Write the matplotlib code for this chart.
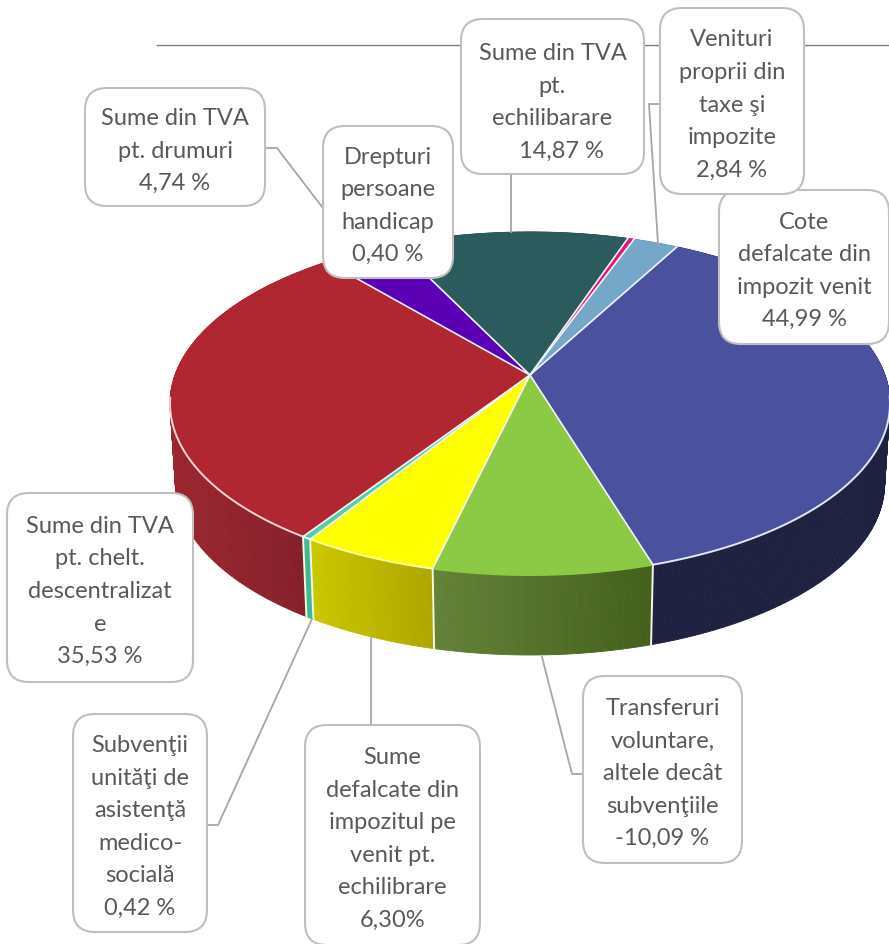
import numpy as np
import matplotlib
matplotlib.use("Agg")
import matplotlib.pyplot as plt
from matplotlib.patches import Polygon, FancyBboxPatch
from matplotlib.colors import to_rgb

labels = ["Cote\ndefalcate din\nimpozit venit\n44,99 %",
          "Transferuri\nvoluntare,\naltele decât\nsubvenţiile\n-10,09 %",
          "Sume\ndefalcate din\nimpozitul pe\nvenit pt.\nechilibrare\n6,30%",
          "Subvenţii\nunităţi de\nasistenţă\nmedico-\nsocială\n0,42 %",
          "Sume din TVA\npt. chelt.\ndescentralizat\ne\n35,53 %",
          "Sume din TVA\npt. drumuri\n4,74 %",
          "Sume din TVA\npt.\nechilibarare\n   14,87 %",
          "Drepturi\npersoane\nhandicap\n0,40 %",
          "Venituri\nproprii din\ntaxe şi\nimpozite\n2,84 %"]
values = [44.99, 10.09, 6.30, 0.42, 35.53, 4.74, 14.87, 0.40, 2.84]

top_colors = ["#4A52A0", "#8CC944", "#FFFF00", "#4FD0A8", "#B12731", "#5B00B5", "#2B5B5C", "#E0187A", "#74A7C8"]
side_left = ["#1E2240", "#648238", "#CBC800", "#3FB890", "#9C2630", "#4A0090", "#224849", "#B01060", "#5C86A0"]
side_right = ["#1E2240", "#43601C", "#AFA600", "#3FB890", "#801F29", "#4A0090", "#224849", "#B01060", "#5C86A0"]
rim_colors = ["#E4E6F4", "#8CC944", "#FFFFA8", "#FFFFFF", "#F6D8D8", "#5B00B5", "#2B5B5C", "#E0187A", "#74A7C8"]

boxes = [(719, 190, 889, 344), (583, 676, 742, 863), (305, 725, 480, 945), (73, 714, 207, 932),
         (7, 493, 193, 682), (85, 88, 265, 206), (461, 19, 644, 174), (323, 126, 453, 278), (660, 8, 804, 194)]
text_shift = [4, 4, 4, 4, 4, 4, 6, 4, 4]
leaders = [[], [(583, 774), (572, 774), (542, 657)], [(371, 725), (371, 638)],
           [(207, 825), (218, 825), (312, 619)], [], [(265, 148), (277, 148), (355, 250)],
           [(511, 174), (511, 232)], [], [(660, 104), (649, 104), (658, 244)]]

CX, CY, R, S, K = 530.0, 375.0, 355.0, 166.8, 0.166
START = 61.7
DEPTH, SHRINK = 80.0, 0.985


def project(theta):
    u, v = np.cos(theta), np.sin(theta)
    w = 1 + K * v
    return CX + R * u / w, CY - S * v / w


fig = plt.figure(figsize=(8.89, 9.44), dpi=100)
ax = fig.add_axes([0, 0, 1, 1])
ax.set_xlim(0, 889)
ax.set_ylim(944, 0)
ax.axis("off")

ax.plot([157, 889], [45, 45], color="#7F7F7F", lw=1.0, zorder=1)

shares = np.array(values) / np.sum(np.abs(values)) * 360.0
edges = np.radians(START - np.concatenate([[0], np.cumsum(shares)]))

# sides
for i in range(len(values)):
    n = max(int(shares[i] * 2), 4)
    ts = np.linspace(edges[i], edges[i + 1], n + 1)
    x, y = project(ts)
    xb = CX + (x - CX) * SHRINK
    yb = y + DEPTH
    xmin, xmax = x.min(), x.max()
    c0, c1 = np.array(to_rgb(side_left[i])), np.array(to_rgb(side_right[i]))
    for j in range(n):
        f = ((x[j] + x[j + 1]) / 2 - xmin) / max(xmax - xmin, 1)
        col = tuple(c0 + (c1 - c0) * f)
        ax.add_patch(Polygon([(x[j], y[j]), (x[j + 1], y[j + 1]), (xb[j + 1], yb[j + 1]), (xb[j], yb[j])],
                             closed=True, fc=col, ec=col, lw=0.6, zorder=2))

# seams on the front of the side wall
for t in edges[1:5]:
    x, y = project(t)
    ax.plot([x, CX + (x - CX) * SHRINK], [y, y + DEPTH], color="#F4F6E8", lw=1.4, zorder=3)

# top face
for i in range(len(values)):
    n = max(int(shares[i] * 2), 4)
    ts = np.linspace(edges[i], edges[i + 1], n + 1)
    x, y = project(ts)
    ax.add_patch(Polygon(np.column_stack([np.r_[CX, x], np.r_[CY, y]]), closed=True,
                         fc=top_colors[i], ec=top_colors[i], lw=0.4, zorder=4))
    front = np.sin(ts) < -0.12
    if front.any():
        ax.plot(x[front], y[front], color=rim_colors[i], lw=1.4, zorder=5, solid_capstyle="butt")

# spokes
for t in edges[:-1]:
    x, y = project(t)
    ax.plot([CX, x], [CY, y], color="#F2F4FA", lw=1.2, zorder=6)

# leaders and callouts
for pts in leaders:
    if pts:
        ax.plot(*zip(*pts), color="#A6A6A6", lw=1.3, zorder=7, solid_joinstyle="miter")

for (x0, y0, x1, y1), text, dy in zip(boxes, labels, text_shift):
    ax.add_patch(FancyBboxPatch((x0 + 22, y0 + 22), x1 - x0 - 44, y1 - y0 - 44,
                                boxstyle="round,pad=22,rounding_size=22", fc="white", ec="#BFBFBF",
                                lw=1.5, zorder=8))
    ax.text((x0 + x1) / 2, (y0 + y1) / 2 + dy, text, ha="center", va="center", family="Lato",
            fontsize=17, color="#595959", linespacing=1.68, zorder=9)

fig.savefig("out.png", dpi=100)
